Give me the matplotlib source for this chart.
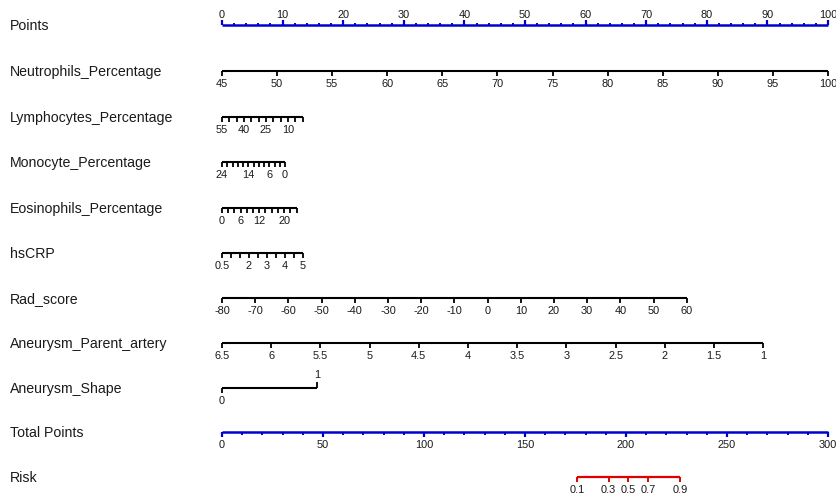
import numpy as np
import matplotlib.pyplot as plt

plt.rcParams['font.family'] = ['Liberation Sans', 'DejaVu Sans']

# Points scale (top) and Total Points scale
points_major = [0, 10, 20, 30, 40, 50, 60, 70, 80, 90, 100]
points_minor = [2, 4, 6, 8, 12, 14, 16, 18, 22, 24, 26, 28, 32, 34, 36, 38,
                42, 44, 46, 48, 52, 54, 56, 58, 62, 64, 66, 68, 72, 74, 76, 78,
                82, 84, 86, 88, 92, 94, 96, 98]
total_major = [0, 50, 100, 150, 200, 250, 300]
total_minor = [10, 20, 30, 40, 60, 70, 80, 90, 110, 120, 130, 140, 160, 170, 180,
               190, 210, 220, 230, 240, 260, 270, 280, 290]
total_max = 300

# predictors: tick values, labelled values, (value at left, value at right), (points left, points right)
neut_ticks = [45, 50, 55, 60, 65, 70, 75, 80, 85, 90, 95, 100]
neut_labels = [45, 50, 55, 60, 65, 70, 75, 80, 85, 90, 95, 100]
neut_ends, neut_pts = (45, 100), (0, 100)

lymph_ticks = [55, 50, 45, 40, 35, 30, 25, 20, 15, 10, 5, 0]
lymph_labels = [55, 40, 25, 10]
lymph_ends, lymph_pts = (55, 0), (0, 13.3)

mono_ticks = [24, 22, 20, 18, 16, 14, 12, 10, 8, 6, 4, 2, 0]
mono_labels = [24, 14, 6, 0]
mono_ends, mono_pts = (24, 0), (0, 10.4)

eos_ticks = [0, 2, 4, 6, 8, 10, 12, 14, 16, 18, 20, 22, 24]
eos_labels = [0, 6, 12, 20]
eos_ends, eos_pts = (0, 24), (0, 12.3)

crp_ticks = [0.5, 1, 1.5, 2, 2.5, 3, 3.5, 4, 4.5, 5]
crp_labels = [0.5, 2, 3, 4, 5]
crp_ends, crp_pts = (0.5, 5), (0, 13.3)

rad_ticks = [-80, -70, -60, -50, -40, -30, -20, -10, 0, 10, 20, 30, 40, 50, 60]
rad_labels = rad_ticks
rad_ends, rad_pts = (-80, 60), (0, 76.7)

artery_ticks = [6.5, 6, 5.5, 5, 4.5, 4, 3.5, 3, 2.5, 2, 1.5, 1]
artery_labels = artery_ticks
artery_ends, artery_pts = (6.5, 1), (0, 89.3)

shape_ticks = [0, 1]
shape_ends, shape_pts = (0, 1), (0, 15.7)

# risk ticks and their position on the Total Points scale
risk_labels = [0.1, 0.3, 0.5, 0.7, 0.9]
risk_total = [175.7, 191.4, 201.2, 211.0, 226.7]

names = ["Points", "Neutrophils_Percentage", "Lymphocytes_Percentage",
         "Monocyte_Percentage", "Eosinophils_Percentage", "hsCRP", "Rad_score",
         "Aneurysm_Parent_artery", "Aneurysm_Shape", "Total Points", "Risk"]
row_y = [25, 71, 117, 162, 208, 253, 298, 343, 388, 432, 477]

BLUE = '#0000CD'
RED = '#E00000'
TXT = '#1a1a1a'
px = 6.06  # pixels per point

fig = plt.figure(figsize=(8.37, 4.96), dpi=100)
ax = fig.add_axes([0, 0, 1, 1])
ax.set_xlim(-222 / px, (837 - 222) / px)
ax.set_ylim(496, 0)
ax.axis('off')

lab_fs = 10.2
tick_fs = 7.9


def fmt(v):
    return ('%g' % v)


for name, y in zip(names, row_y):
    ax.text(10 / px - 222 / px, y + 1, name, fontsize=lab_fs, va='center',
            ha='left', color=TXT)

# Points axis (ticks up, labels above)
y = row_y[0]
ax.plot([0, 100], [y, y], color=BLUE, lw=1.8, solid_capstyle='butt')
ax.vlines(points_major, y - 5, y, color=BLUE, lw=1.6)
ax.vlines(points_minor, y - 2.5, y, color=BLUE, lw=1.4)
for v in points_major:
    ax.text(v, y - 10, fmt(v), fontsize=tick_fs, ha='center', va='center', color=TXT)


def scale(v, ends, pts):
    return pts[0] + (np.asarray(v, float) - ends[0]) / (ends[1] - ends[0]) * (pts[1] - pts[0])


rows = [(neut_ticks, neut_labels, neut_ends, neut_pts),
        (lymph_ticks, lymph_labels, lymph_ends, lymph_pts),
        (mono_ticks, mono_labels, mono_ends, mono_pts),
        (eos_ticks, eos_labels, eos_ends, eos_pts),
        (crp_ticks, crp_labels, crp_ends, crp_pts),
        (rad_ticks, rad_labels, rad_ends, rad_pts),
        (artery_ticks, artery_labels, artery_ends, artery_pts)]

for (ticks, labels, ends, pts), y in zip(rows, row_y[1:8]):
    ax.plot(pts, [y, y], color='black', lw=1.5, solid_capstyle='butt')
    ax.vlines(scale(ticks, ends, pts), y, y + 4.5, color='black', lw=1.3)
    for v in labels:
        ax.text(scale(v, ends, pts), y + 13, fmt(v), fontsize=tick_fs,
                ha='center', va='center', color=TXT)

# Aneurysm_Shape: 0 below, 1 above
y = row_y[8]
ax.plot(shape_pts, [y, y], color='black', lw=1.5, solid_capstyle='butt')
x0, x1 = scale(shape_ticks, shape_ends, shape_pts)
ax.vlines([x0], y, y + 4.5, color='black', lw=1.3)
ax.vlines([x1], y - 6, y, color='black', lw=1.3)
ax.text(x0, y + 13, fmt(shape_ticks[0]), fontsize=tick_fs, ha='center', va='center', color=TXT)
ax.text(x1, y - 13, fmt(shape_ticks[1]), fontsize=tick_fs, ha='center', va='center', color=TXT)

# Total Points (ticks down)
y = row_y[9]
tp = lambda v: np.asarray(v, float) / total_max * 100
ax.plot([0, 100], [y, y], color=BLUE, lw=1.8, solid_capstyle='butt')
ax.vlines(tp(total_major), y, y + 5, color=BLUE, lw=1.6)
ax.vlines(tp(total_minor), y, y + 2.5, color=BLUE, lw=1.4)
for v in total_major:
    ax.text(tp(v), y + 13, fmt(v), fontsize=tick_fs, ha='center', va='center', color=TXT)

# Risk
y = row_y[10]
rx = tp(risk_total)
ax.plot([rx[0], rx[-1]], [y, y], color=RED, lw=1.6, solid_capstyle='butt')
ax.vlines(rx, y, y + 5, color=RED, lw=1.4)
for v, x in zip(risk_labels, rx):
    ax.text(x, y + 13, fmt(v), fontsize=tick_fs, ha='center', va='center', color=TXT)

fig.savefig('out.png', dpi=100)
